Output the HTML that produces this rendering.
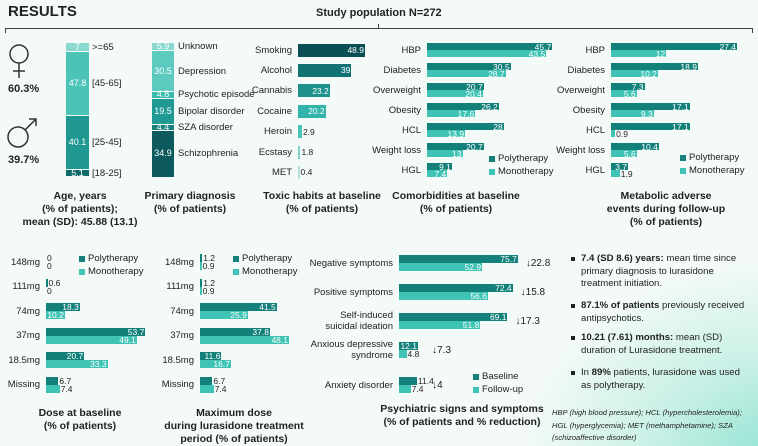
<!DOCTYPE html>
<html><head><meta charset="utf-8"><style>
body{margin:0;}
#root{position:relative;width:758px;height:446px;overflow:hidden;font-family:"Liberation Sans",sans-serif;color:#222;
background:radial-gradient(ellipse 260px 200px at 780px 460px,#8fe3d2 0%,#c9f0e6 50%,rgba(243,250,248,0) 100%),#f4faf8;}
.t{position:absolute;white-space:nowrap;font-size:9.5px;line-height:11px;}
.b{position:absolute;}
.v{position:absolute;font-size:8.5px;line-height:8px;color:#fff;text-align:right;white-space:nowrap;}
.ttl{position:absolute;font-weight:bold;font-size:10.5px;line-height:13px;text-align:center;white-space:nowrap;transform:translateX(-50%);}
.bul{position:absolute;font-size:9.6px;line-height:12.5px;white-space:nowrap;}
.bul:before{content:"";position:absolute;left:-10px;top:4px;width:4px;height:4px;background:#222;}
</style></head><body>
<div id="root">
<div class="t" style="left:8px;top:3px;font-size:15px;line-height:18px;font-weight:bold">RESULTS</div>
<div class="t" style="left:316px;top:8px;font-size:11px;font-weight:bold">Study population N=272</div>
<svg class="b" style="left:0;top:0" width="758" height="40">
<path d="M5.5 33 V28.5 H752.5 V33 M378.5 28.5 V24" stroke="#444" fill="none" stroke-width="1"/></svg>
<svg class="b" style="left:4px;top:40px" width="40" height="120">
<g stroke="#333" stroke-width="1.5" fill="none"><circle cx="15" cy="14" r="9"/><path d="M15 23V38M9 31H21"/>
<circle cx="14" cy="97" r="10"/><path d="M21 90L32 79M25 79H32V86"/></g></svg>
<div class="t" style="left:8px;top:84px;font-weight:bold;font-size:11px">60.3%</div>
<div class="t" style="left:8px;top:155px;font-weight:bold;font-size:11px">39.7%</div>

<div class="ttl" style="left:80px;top:190px">Age, years<br>(% of patients);<br>mean (SD): 45.88 (13.1)</div>
<div class="ttl" style="left:190px;top:190px">Primary diagnosis<br>(% of patients)</div>
<div class="ttl" style="left:322px;top:190px">Toxic habits at baseline<br>(% of patients)</div>
<div class="ttl" style="left:456px;top:190px">Comorbidities at baseline<br>(% of patients)</div>
<div class="ttl" style="left:666px;top:190px">Metabolic adverse<br>events during follow-up<br>(% of patients)</div>
<div class="ttl" style="left:80px;top:407px">Dose at baseline<br>(% of patients)</div>
<div class="ttl" style="left:234px;top:407px">Maximum dose<br>during lurasidone treatment<br>period (% of patients)</div>
<div class="ttl" style="left:462px;top:403px">Psychiatric signs and symptoms<br>(% of patients and % reduction)</div>

<div class="bul" style="left:581px;top:253px"><b>7.4 (SD 8.6) years:</b> mean time since<br>primary diagnosis to lurasidone<br>treatment initiation.</div>
<div class="bul" style="left:581px;top:300px"><b>87.1% of patients</b> previously received<br>antipsychotics.</div>
<div class="bul" style="left:581px;top:332px"><b>10.21 (7.61) months:</b> mean (SD)<br>duration of Lurasidone treatment.</div>
<div class="bul" style="left:581px;top:367px">In <b>89%</b> patients, lurasidone was used<br>as polytherapy.</div>
<div class="t" style="left:552px;top:407px;font-style:italic;font-size:7.6px;line-height:12.5px">HBP (high blood pressure); HCL (hypercholesterolemia);<br>HGL (hyperglycemia); MET (methamphetamine); SZA<br>(schizoaffective disorder)</div>
</div>
<script>
const ageCats=[">=65","[45-65]","[25-45]","[18-25]"];
const ageVals=[7,47.8,40.1,5.1];
const dxCats=["Unknown","Depression","Psychotic episode","Bipolar disorder","SZA disorder","Schizophrenia"];
const dxVals=[5.9,30.5,4.8,19.5,4.4,34.9];
const toxCats=["Smoking","Alcohol","Cannabis","Cocaine","Heroin","Ecstasy","MET"];
const toxVals=[48.9,39,23.2,20.2,2.9,1.8,0.4];
const comCats=["HBP","Diabetes","Overweight","Obesity","HCL","Weight loss","HGL"];
const comPoly=[45.7,30.5,20.7,26.2,28,20.7,9.1];
const comMono=[43.5,28.7,20.4,17.6,13.9,13,7.4];
const metCats=["HBP","Diabetes","Overweight","Obesity","HCL","Weight loss","HGL"];
const metPoly=[27.4,18.9,7.3,17.1,17.1,10.4,3.7];
const metMono=[12,10.2,5.6,9.3,0.9,5.6,1.9];
const doseCats=["148mg","111mg","74mg","37mg","18.5mg","Missing"];
const dosePoly=[0,0.6,18.3,53.7,20.7,6.7];
const doseMono=[0,0,10.2,49.1,33.3,7.4];
const maxPoly=[1.2,1.2,41.5,37.8,11.6,6.7];
const maxMono=[0.9,0.9,25.9,48.1,16.7,7.4];
const psyCats=["Negative symptoms","Positive symptoms","Self-induced\nsuicidal ideation","Anxious depressive\nsyndrome","Anxiety disorder"];
const psyBase=[75.7,72.4,69.1,12.1,11.4];
const psyFollow=[52.9,56.6,51.8,4.8,7.4];
const psyRed=[22.8,15.8,17.3,7.3,4];

const root=document.getElementById('root');
const DARK='#13807a',LIGHT='#3ec3b5';
function mk(cls,css,name){const e=document.createElement('div');e.className=cls;e.style.cssText=css;


root.appendChild(e);return e;}

function stack(cats,vals,x,y0,w,h,colors,lx,name){
  const s=h/vals.reduce((a,b)=>a+b,0);let y=y0;
  vals.forEach((v,i)=>{const hh=v*s;
    mk('b',`left:${x}px;top:${y}px;width:${w}px;height:${hh-1}px;background:${colors[i]}`,name+'-segment');
    const t=mk('t',`left:${x}px;width:${w}px;top:${y+hh/2-6}px;color:#fff;text-align:center;font-size:9px`,name+'-value');t.textContent=v;
    const l=mk('t',`left:${lx}px;top:${y+hh/2-6}px`,name+'-label');l.textContent=cats[i];
    y+=hh;});
}
stack(ageCats,ageVals,66,43,23,134,['#8ad9d0','#4cc3b7','#1e9890','#0d6a69'],92,'age');
stack(dxCats,dxVals,152,43,22,135,['#8ad9d0','#5ccabe','#3cbab0','#1f9a92','#16807c','#0c5a5e'],178,'diagnosis');

function label(txt,right,cy,name){const l=mk('t',`left:${right-120}px;width:120px;text-align:right;top:${cy-(txt.includes('\n')?11:5.5)}px`,name);l.innerHTML=txt.replace('\n','<br>');}
function bar(x,y,v,scale,h,color,name){
  const w=Math.max(v*scale,v>0?1.5:0);
  mk('b',`left:${x}px;top:${y}px;width:${w}px;height:${h}px;background:${color}`,name);
  const txt=String(v);const tw=txt.length*4.3;
  if(w>tw+1){const t=mk('v',`left:${x}px;width:${w-1}px;top:${y+(h-8)/2}px`,name+'-value');t.textContent=txt;}
  else{const t=mk('v',`left:${x+w+1}px;top:${y+(h-8)/2}px;color:#222;text-align:left`,name+'-value');t.textContent=txt;}
}
const toxCol=['#0b4f56','#137374','#1f918c','#33b4aa','#4cc3b7','#7dd3ca','#b0e3de'];
toxCats.forEach((c,i)=>{const cy=50+i*20.4;label(c,292,cy,'toxic-label');bar(298,cy-6.5,toxVals[i],1.37,13,toxCol[i],'toxic-bar');});

function group(cats,A,B,x0,scale,y0,step,lr,h,name){
  cats.forEach((c,i)=>{const top=y0+i*step;label(c,lr,top+h,name+'-label');
    bar(x0,top,A[i],scale,h,DARK,name+'-poly-bar');bar(x0,top+h,B[i],scale,h,LIGHT,name+'-mono-bar');});
}
function legend(x,y,a,b,name){[a,b].forEach((t,i)=>{
  mk('b',`left:${x}px;top:${y+i*13+2}px;width:6px;height:6px;background:${i?LIGHT:DARK}`,name+'-swatch');
  const l=mk('t',`left:${x+9}px;top:${y+i*13-1}px`,name+'-entry');l.textContent=t;});}
group(comCats,comPoly,comMono,427,2.74,43,20,421,7,'comorbidity');
legend(489,154,'Polytherapy','Monotherapy','comorbidity-legend');
group(metCats,metPoly,metMono,611,4.6,43,20,605,7,'metabolic');
legend(680,153,'Polytherapy','Monotherapy','metabolic-legend');
group(doseCats,dosePoly,doseMono,46,1.85,254,24.5,40,8,'dose');
legend(79,254,'Polytherapy','Monotherapy','dose-legend');
group(doseCats,maxPoly,maxMono,200,1.85,254,24.5,194,8,'maxdose');
legend(233,254,'Polytherapy','Monotherapy','maxdose-legend');
psyCats.forEach((c,i)=>{const top=255+i*29+(i==4?6:0);label(c,393,top+8,'psych-label');
  bar(399,top,psyBase[i],1.57,8,DARK,'psych-baseline-bar');bar(399,top+8,psyFollow[i],1.57,8,LIGHT,'psych-followup-bar');
  const r=mk('t',`left:${399+Math.max(psyBase[i],psyFollow[i],16)*1.57+8}px;top:${top+3}px;font-size:10px`,'psych-reduction');r.textContent='↓'+psyRed[i];});
legend(473,372,'Baseline','Follow-up','psych-legend');
</script>
</body></html>
